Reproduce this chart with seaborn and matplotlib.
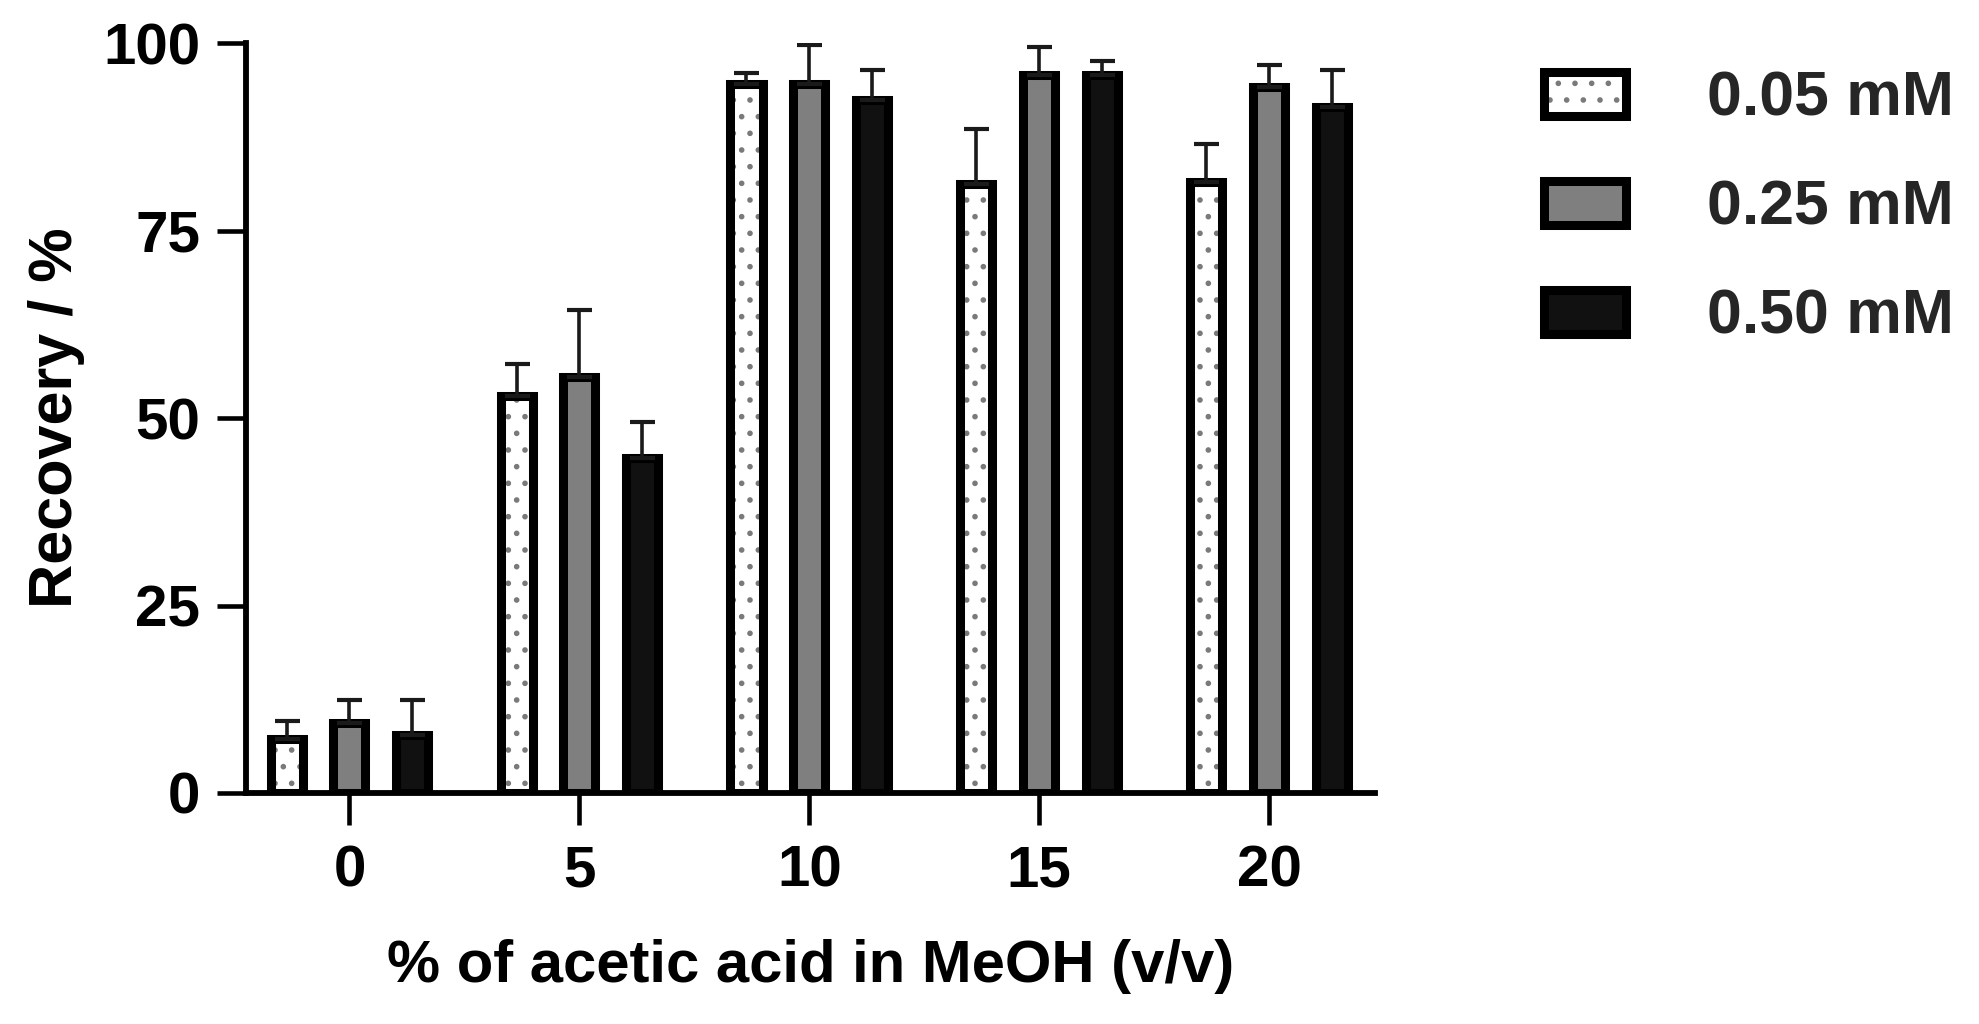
import numpy as np
import pandas as pd
import matplotlib
matplotlib.use("Agg")
import matplotlib.pyplot as plt
import matplotlib.patches as mpatches
from matplotlib.colors import to_rgba
import seaborn as sns

# ---- data ----
acid_levels = ["0", "5", "10", "15", "20"]
conc_labels = ["0.05 mM", "0.25 mM", "0.50 mM"]
rec_005 = [7.2, 53.0, 94.6, 81.3, 81.5]
rec_025 = [9.3, 55.5, 94.6, 95.8, 94.2]
rec_050 = [7.7, 44.7, 92.4, 95.8, 91.5]
err_005 = [2.4, 4.2, 1.5, 7.3, 5.1]
err_025 = [3.1, 8.9, 5.2, 3.7, 2.9]
err_050 = [4.7, 4.8, 4.0, 1.9, 4.9]
y_ticks = [0, 25, 50, 75, 100]

fill_colors = ["white", "#7f7f7f", "#111111"]
hatches = [".", "", ""]
HATCH_COLOR = "#7a7a7a"
EDGE_LW = 6.5

sns.set_theme(style="ticks")
plt.rcParams["font.family"] = ["Liberation Sans", "DejaVu Sans"]
plt.rcParams["font.weight"] = "bold"
plt.rcParams["hatch.linewidth"] = 1.6

df = pd.DataFrame({
    "acid": acid_levels * 3,
    "rec": rec_005 + rec_025 + rec_050,
    "conc": [conc_labels[0]] * 5 + [conc_labels[1]] * 5 + [conc_labels[2]] * 5,
})

fig = plt.figure(figsize=(19.79, 10.24), dpi=100)
ax = fig.add_axes([0.1243, 0.2256, 0.5705, 0.7321])

sns.barplot(data=df, x="acid", y="rec", hue="conc", order=acid_levels,
            hue_order=conc_labels, palette=dict(zip(conc_labels, fill_colors)),
            edgecolor="black", linewidth=EDGE_LW, width=0.82, gap=0.49,
            errorbar=None, legend=False, saturation=1, ax=ax)

for cont, h in zip(ax.containers, hatches):
    for p in cont:
        if h:
            p.set_hatch(h)
            p._hatch_color = to_rgba(HATCH_COLOR)

for cont, errs in zip(ax.containers, [err_005, err_025, err_050]):
    xs = [p.get_x() + p.get_width() / 2 for p in cont]
    ys = [p.get_height() for p in cont]
    ax.errorbar(xs, ys, yerr=[np.zeros(len(errs)), errs], fmt="none",
                ecolor="#1a1a1a", elinewidth=2.6, capsize=9, capthick=3,
                zorder=3)

ax.set_ylim(0, 100)
ax.set_xlim(-0.45, 4.46)
ax.set_yticks(y_ticks)
ax.set_yticklabels([str(t) for t in y_ticks])
sns.despine(ax=ax)
for s in ["left", "bottom"]:
    ax.spines[s].set_linewidth(4.2)
    ax.spines[s].set_color("black")
ax.tick_params(axis="y", length=21, width=3.3, pad=12, labelsize=42, colors="black")
ax.tick_params(axis="x", length=23, width=3.3, pad=14, labelsize=42, colors="black")
for lab in ax.get_xticklabels() + ax.get_yticklabels():
    lab.set_fontweight("bold")

ax.set_xlabel("% of acetic acid in MeOH (v/v)", fontsize=43, fontweight="bold", color="black")
ax.set_ylabel("Recovery / %", fontsize=44, fontweight="bold", color="black")
ax.xaxis.set_label_coords(0.5, -0.195)
ax.yaxis.set_label_coords(-0.143, 0.5)

handles = [mpatches.Patch(facecolor=c, edgecolor="black", linewidth=EDGE_LW, hatch=h)
           for c, h in zip(fill_colors, hatches)]
leg = fig.legend(handles, conc_labels, loc="upper left", bbox_to_anchor=(0.780, 0.932),
                 frameon=False, fontsize=45, handlelength=1.32, handleheight=0.72,
                 handletextpad=1.3, labelspacing=0.8, borderpad=0, borderaxespad=0)
for p, h in zip(leg.get_patches(), hatches):
    if h:
        p._hatch_color = to_rgba(HATCH_COLOR)
for t in leg.get_texts():
    t.set_fontweight("bold")

fig.savefig("out.png", dpi=100)
